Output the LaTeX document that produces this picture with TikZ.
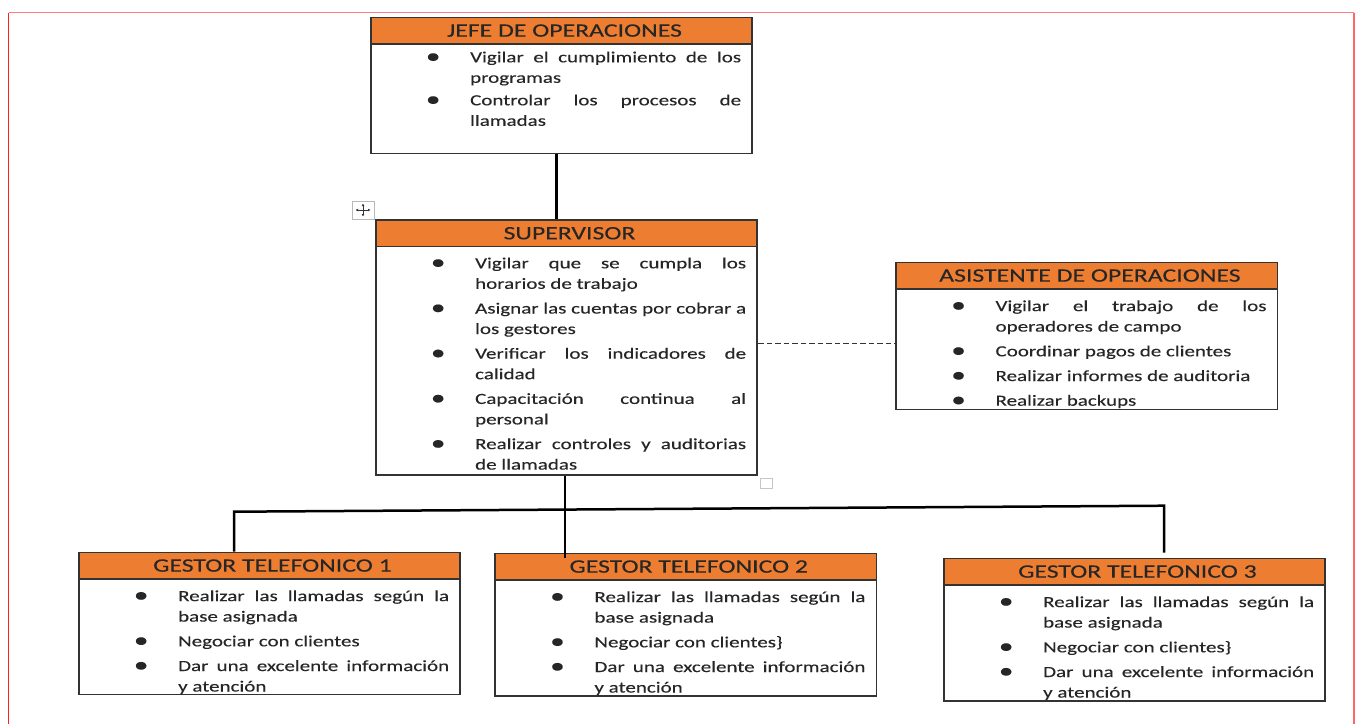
\documentclass[tikz,border=0pt]{standalone}
\usepackage{fontspec}
\setmainfont{Carlito}[FakeStretch=1.355,FakeBold=0.18]
\usetikzlibrary{calc,arrows.meta}

\definecolor{hdr}{HTML}{ED7D31}
\definecolor{edge}{HTML}{333333}
\definecolor{ink}{HTML}{262626}
\definecolor{pagered}{HTML}{FF2020}
\definecolor{pagepink}{HTML}{FF8080}

% bullet list lines: bullet centred at the node's west edge, text 37pt to the right
\newlength\bulgap \setlength\bulgap{37pt}
\newcommand\bdot{\makebox[0pt]{\raisebox{-0.9pt}{\scalebox{1.4}{\textbullet}}}}
\newcommand\bj[1]{\hbox{\makebox[\bulgap][l]{\bdot}\makebox[271pt][s]{#1}}}
\newcommand\bl[1]{\hbox{\makebox[\bulgap][l]{\bdot}#1}}
\newcommand\cl[1]{\hbox{\hspace*{\bulgap}#1}}
\newcommand\igap{\vskip 4.2pt}
\newcommand\itemstack[1]{\vtop{\baselineskip=20.5pt\lineskiplimit=-30pt #1}}

\tikzset{
  card/.style={draw=edge, line width=1.6pt, minimum width=381.5pt, inner sep=0pt, fill=white},
  cardhead/.style={draw=edge, line width=1.6pt, fill=hdr, minimum width=381.5pt,
    minimum height=26.5pt, inner sep=0pt, font=\fontsize{19}{20}\selectfont, text=ink, anchor=north},
  cardbody/.style={anchor=base west, inner sep=0pt, font=\fontsize{15.5}{20.5}\selectfont, text=ink},
  link/.style={line width=2.8pt, black},
  dotlink/.style={line width=1pt, edge, dash pattern=on 5.5pt off 3pt},
}

\begin{document}
\begin{tikzpicture}[x=1pt,y=-1pt]
\useasboundingbox (0,0) rectangle (1355,724);
\fill[white] (0,0) rectangle (1355,724);

% page frame
\draw[pagepink, line width=1.2pt] (8.5,12.5) -- (1354,12.5);
\draw[pagered, line width=1.6pt] (8.5,12.5) -- (8.5,724);
\draw[pagepink!80!red, line width=1.4pt] (1354,12.5) -- (1354,724);

% ---------- JEFE DE OPERACIONES ----------
\node[card, minimum height=136pt] (jefe) at (561.5,85.3) {};
\node[cardhead] (jefe-head) at (jefe.north) {\hspace*{6pt}JEFE DE OPERACIONES};
\node[cardbody] (jefe-list) at ($(jefe-head.south west)+(63,17.7)$) {\itemstack{%
  \bj{Vigilar el cumplimiento de los}\cl{programas}\vskip2pt
  \bj{Controlar los procesos de}\cl{llamadas}}};

% ---------- SUPERVISOR ----------
\node[card, minimum height=255pt] (sup) at (566.5,347.5) {};
\node[cardhead] (sup-head) at (sup.north) {\hspace*{6pt}SUPERVISOR};
\node[cardbody] (sup-list) at ($(sup-head.south west)+(63,21)$) {\itemstack{%
  \bj{Vigilar que se cumpla los}\cl{horarios de trabajo}\igap
  \bj{Asignar las cuentas por cobrar a}\cl{los gestores}\igap
  \bj{Verificar los indicadores de}\cl{calidad}\igap
  \bj{Capacitación continua al}\cl{personal}\igap
  \bj{Realizar controles y auditorias}\cl{de llamadas}}};

% ---------- ASISTENTE DE OPERACIONES ----------
\node[card, minimum height=147pt] (asis) at (1086.9,335.8) {};
\node[cardhead] (asis-head) at (asis.north) {\hspace*{6pt}ASISTENTE DE OPERACIONES};
\node[cardbody] (asis-list) at ($(asis-head.south west)+(63,21.5)$) {\itemstack{%
  \bj{Vigilar el trabajo de los}\cl{operadores de campo}\igap
  \bl{Coordinar pagos de clientes}\igap
  \bl{Realizar informes de auditoria}\igap
  \bl{Realizar backups}}};

% ---------- GESTORES TELEFONICOS ----------
\node[card, minimum height=142pt] (g1) at (269.5,623.3) {};
\node[cardhead] (g1-head) at (g1.north) {\hspace*{6pt}GESTOR TELEFONICO 1};
\node[cardbody] (g1-list) at ($(g1-head.south west)+(63,21.5)$) {\itemstack{%
  \bj{Realizar las llamadas según la}\cl{base asignada}\igap
  \bl{Negociar con clientes}\igap
  \bj{Dar una excelente información}\cl{y atención}}};

\node[card, minimum height=142.7pt] (g2) at (685.8,624.65) {};
\node[cardhead] (g2-head) at (g2.north) {\hspace*{6pt}GESTOR TELEFONICO 2};
\node[cardbody] (g2-list) at ($(g2-head.south west)+(63,21.5)$) {\itemstack{%
  \bj{Realizar las llamadas según la}\cl{base asignada}\igap
  \bl{Negociar con clientes\}}\igap
  \bj{Dar una excelente información}\cl{y atención}}};

\node[card, minimum height=142.7pt] (g3) at (1134.5,629.65) {};
\node[cardhead] (g3-head) at (g3.north) {\hspace*{6pt}GESTOR TELEFONICO 3};
\node[cardbody] (g3-list) at ($(g3-head.south west)+(63,21.5)$) {\itemstack{%
  \bj{Realizar las llamadas según la}\cl{base asignada}\igap
  \bl{Negociar con clientes\}}\igap
  \bj{Dar una excelente información}\cl{y atención}}};

% ---------- connectors ----------
\coordinate (jdrop) at (556.5,0);
\coordinate (sdrop) at (565,0);
\coordinate (busL) at (234,511.7);
\coordinate (busR) at (1164,505.7);
\coordinate (dashY) at (0,343);

\draw[link] (jefe.south -| jdrop) -- (sup.north -| jdrop);
\draw[link] (sup.south -| sdrop) -- ($(g2.north -| sdrop)+(0,5)$);
\draw[link, line width=2.5pt] (g1.north -| busL) -- (busL) -- (busR) -- ($(g3.north -| busR)+(0,-5)$);
\draw[dotlink] (sup.east |- dashY) -- (asis.west |- dashY);

% editing handles around the supervisor table
\draw[gray!55, line width=1pt] (352,201) rectangle (374,219);
\draw[gray!40!black, line width=0.8pt, {Latex[length=2.5pt,width=2.8pt]}-{Latex[length=2.5pt,width=2.8pt]}] (355.5,210) -- (370.5,210);
\draw[gray!40!black, line width=0.8pt, {Latex[length=2.5pt,width=2.8pt]}-{Latex[length=2.5pt,width=2.8pt]}] (363,203.5) -- (363,216.5);
\draw[gray!45, line width=1pt] (760,478) rectangle (772,488);
\end{tikzpicture}
\end{document}
